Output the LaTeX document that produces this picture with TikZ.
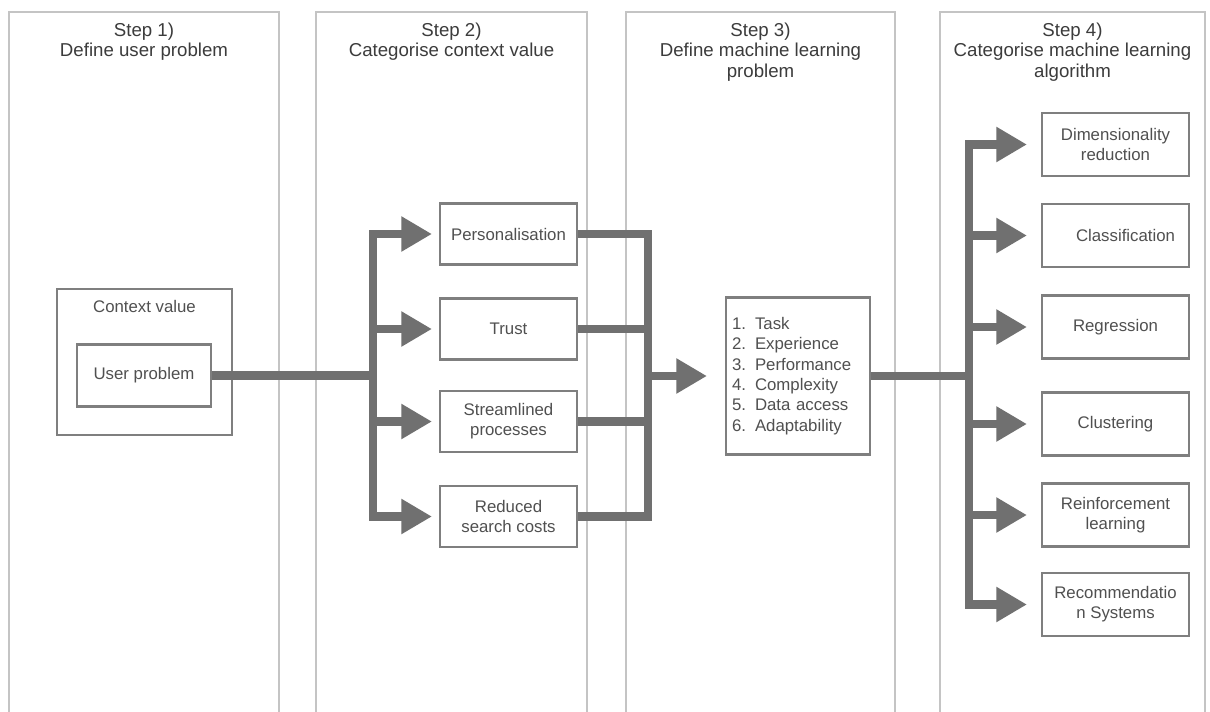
\documentclass[tikz,border=0pt]{standalone}
\usepackage{fontspec}
\setmainfont{Liberation Sans}
\usetikzlibrary{arrows.meta}
\definecolor{colline}{HTML}{C4C4C4}
\definecolor{boxline}{HTML}{7F7F7F}
\definecolor{flow}{HTML}{707070}
\definecolor{titletext}{HTML}{3C3C3C}
\definecolor{boxtext}{HTML}{505050}

\begin{document}
\begin{tikzpicture}[x=0.75pt,y=-0.75pt,
  column/.style={draw=colline,line width=0.9pt},
  steptitle/.style={anchor=north,inner sep=0pt,align=center,text=titletext,
    font=\fontsize{14}{15.5}\selectfont},
  box/.style={draw=boxline,line width=1.6pt,align=center,text=boxtext,
    font=\fontsize{12.6}{15}\selectfont,inner sep=0pt},
  valuebox/.style={box,minimum width=102.75pt,minimum height=45.75pt},
  algobox/.style={box,minimum width=110.25pt,minimum height=47.25pt},
  flowline/.style={draw=flow,line width=6.4pt},
  flowarrow/.style={flowline,-{Triangle[length=23pt,width=25pt]}},
]
% page
\fill[white] (0,0) rectangle (1210,711);
\useasboundingbox (0,0) rectangle (1210,711);

% the four step columns (open at the bottom)
\draw[column] (9,713) -- (9,12) -- (279,12) -- (279,713);
\draw[column] (316,713) -- (316,12) -- (587,12) -- (587,713);
\draw[column] (626,713) -- (626,12) -- (895,12) -- (895,713);
\draw[column] (940,713) -- (940,12) -- (1205,12) -- (1205,713);

% column titles
\node[steptitle] (t1) at (144,22.5) {Step 1)\\Define user problem};
\node[steptitle] (t2) at (451.5,22.5) {Step 2)\\Categorise context value};
\node[steptitle] (t3) at (760.5,22.5) {Step 3)\\Define machine learning\\problem};
\node[steptitle] (t4) at (1072.5,22.5) {Step 4)\\Categorise machine learning\\algorithm};

% step 1
\node[box,minimum width=131.25pt,minimum height=109.5pt] (ctx) at (144.5,362) {};
\node[text=boxtext,font=\fontsize{12.6}{15}\selectfont,inner sep=0pt] (ctxlabel) at (144.5,306) {Context value};
\node[box,minimum width=100.5pt,minimum height=46.5pt] (up) at (144,375.5) {User problem};

% step 2
\node[valuebox] (pers) at (508.5,234) {Personalisation};
\node[valuebox] (trust) at (508.5,329) {Trust};
\node[valuebox] (stream) at (508.5,421.5) {Streamlined\\processes};
\node[valuebox] (red) at (508.5,516.5) {Reduced\\search costs};

% step 3
\node[box,minimum width=108pt,minimum height=117.75pt,text width=99pt,align=left,
  font=\fontsize{12.6}{15.3}\selectfont] (task) at (798,376) {%
  \makebox[17.25pt][l]{1.}Task\\
  \makebox[17.25pt][l]{2.}Experience\\
  \makebox[17.25pt][l]{3.}Performance\\
  \makebox[17.25pt][l]{4.}Complexity\\
  \makebox[17.25pt][l]{5.}Data access\\
  \makebox[17.25pt][l]{6.}Adaptability};

% step 4
\node[algobox] (dim) at (1115.5,144.5) {Dimensionality\\reduction};
\node[algobox] (cls) at (1115.5,235.5) {\hspace*{15pt}Classification};
\node[algobox] (reg) at (1115.5,327) {Regression};
\node[algobox] (clu) at (1115.5,424) {Clustering};
\node[algobox] (rl) at (1115.5,515) {Reinforcement\\learning};
\node[algobox] (rec) at (1115.5,604.5) {Recommendatio\\n Systems};

% bus positions
\coordinate (busL) at (373,0);
\coordinate (busR) at (648,0);
\coordinate (busA) at (969,0);

% user problem -> context values
\draw[flowline] (up.east) -- (up.east -| busL);
\draw[flowarrow,shorten >=5.25pt] (busL |- up.east) -- (busL |- pers.west) -- (pers.west);
\draw[flowarrow,shorten >=5.25pt] (busL |- up.east) -- (busL |- red.west) -- (red.west);
\draw[flowarrow,shorten >=5.25pt] (busL |- trust.west) -- (trust.west);
\draw[flowarrow,shorten >=5.25pt] (busL |- stream.west) -- (stream.west);

% context values -> machine learning problem
\draw[flowline] (pers.east) -- (busR |- pers.east) -- (busR |- red.east) -- (red.east);
\draw[flowline] (trust.east) -- (busR |- trust.east);
\draw[flowline] (stream.east) -- (busR |- stream.east);
\draw[flowarrow,shorten >=13.5pt] (busR |- task.west) -- (task.west);

% machine learning problem -> algorithm families
\draw[flowline] (task.east) -- (task.east -| busA);
\draw[flowarrow,shorten >=10.5pt] (busA |- task.east) -- (busA |- dim.west) -- (dim.west);
\draw[flowarrow,shorten >=10.5pt] (busA |- task.east) -- (busA |- rec.west) -- (rec.west);
\draw[flowarrow,shorten >=10.5pt] (busA |- cls.west) -- (cls.west);
\draw[flowarrow,shorten >=10.5pt] (busA |- reg.west) -- (reg.west);
\draw[flowarrow,shorten >=10.5pt] (busA |- clu.west) -- (clu.west);
\draw[flowarrow,shorten >=10.5pt] (busA |- rl.west) -- (rl.west);
\end{tikzpicture}
\end{document}
